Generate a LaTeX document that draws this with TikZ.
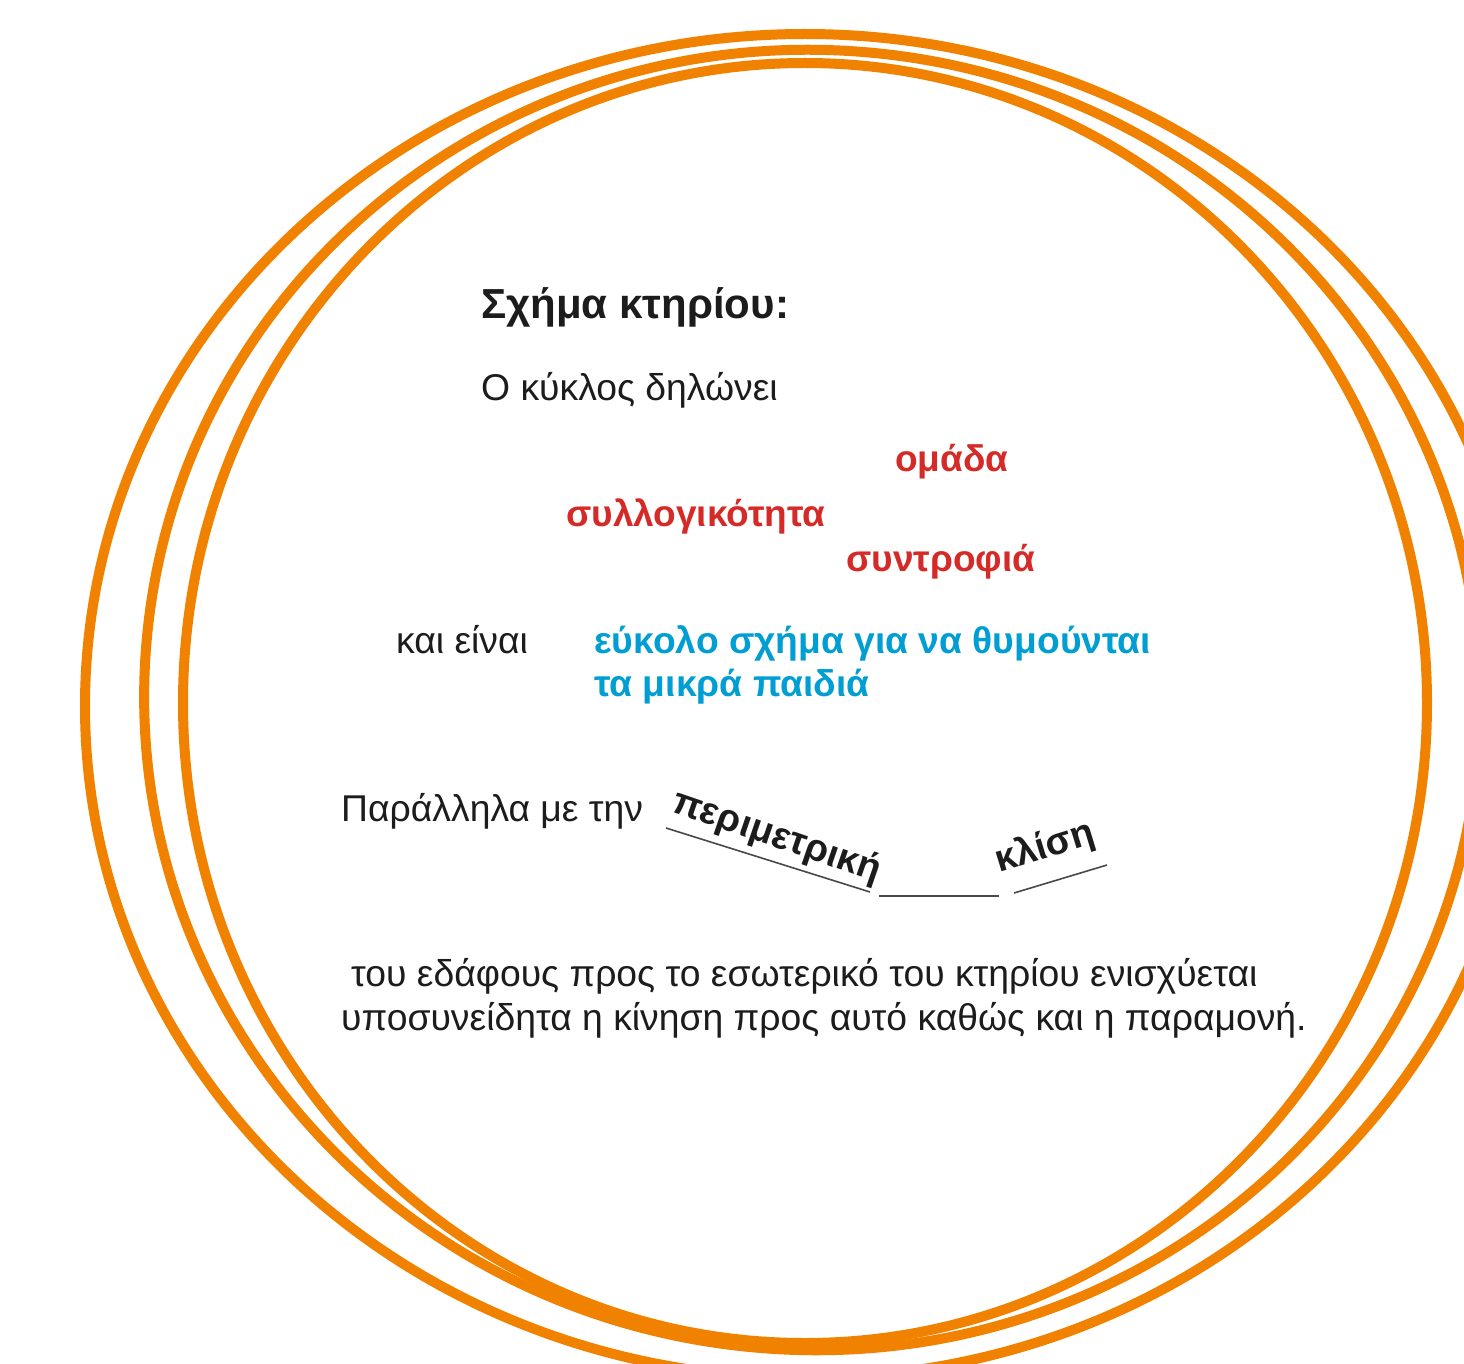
\documentclass[tikz,border=0pt]{standalone}
\usepackage{fontspec}
\setmainfont{Liberation Sans}
\definecolor{ring}{RGB}{241,130,0}
\definecolor{redw}{RGB}{213,43,40}
\definecolor{bluew}{RGB}{0,158,210}
\definecolor{ink}{RGB}{28,28,28}
\begin{document}
\begin{tikzpicture}[x=1pt,y=-1pt,
  ringline/.style={draw=ring,line width=10pt},
  body/.style={inner sep=0pt,anchor=base west,font=\fontsize{37.3}{44}\selectfont,text=ink},
  titletext/.style={body,font=\fontsize{42}{50}\selectfont\bfseries},
  redword/.style={body,font=\fontsize{37}{44}\selectfont\bfseries,text=redw},
  blueword/.style={body,font=\fontsize{37.2}{44}\selectfont\bfseries,text=bluew},
  boldword/.style={body,font=\fontsize{38}{44}\selectfont\bfseries},
  thinline/.style={draw=ink!80,line width=1.6pt}
]
\clip (0,0) rectangle (1464,1364);
\fill[white] (0,0) rectangle (1464,1364);
% rings
\draw[ringline] (805,706) ellipse [x radius=720pt, y radius=672pt];
\draw[ringline,rotate around={-6:(812,700)}] (812,700) ellipse [x radius=668pt, y radius=650pt];
\draw[ringline] (805,703) ellipse [x radius=622pt, y radius=640pt];
% texts
\node[titletext] (title) at (481,318) {Σχήμα κτηρίου:};
\node[body] (intro) at (481,400) {Ο κύκλος δηλώνει};
\node[redword] (omada) at (895,471) {ομάδα};
\node[redword] (syllog) at (566,526) {συλλογικότητα};
\node[redword] (syntr) at (846,571) {συντροφιά};
\node[body] (kai) at (396,653) {και είναι};
\node[blueword] (blueA) at (594,653) {εύκολο σχήμα για να θυμούνται};
\node[blueword] (blueB) at (594,696) {τα μικρά παιδιά};
\node[body] (parall) at (341,821) {Παράλληλα με την};
\node[boldword,rotate=-19] (perim) at (670,811) {περιμετρική};
\node[boldword,rotate=17] (klisi) at (999,873) {κλίση};
\node[body] (parA) at (351,986) {του εδάφους προς το εσωτερικό του κτηρίου ενισχύεται};
\node[body] (parB) at (341,1030) {υποσυνείδητα η κίνηση προς αυτό καθώς και η παραμονή.};
% underlines
\coordinate (u1a) at (666,828);
\coordinate (u1b) at (870,892);
\coordinate (u2a) at (879,896);
\coordinate (u2b) at (999,896);
\coordinate (u3a) at (1014,893);
\coordinate (u3b) at (1107,865);
\draw[thinline] (u1a) -- (u1b);
\draw[thinline] (u2a) -- (u2b);
\draw[thinline] (u3a) -- (u3b);
\end{tikzpicture}
\end{document}
